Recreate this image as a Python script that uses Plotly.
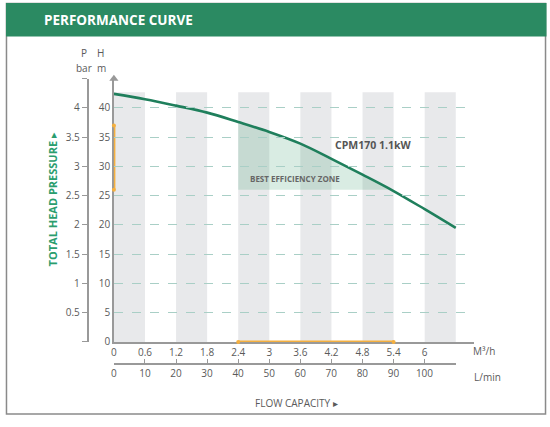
import plotly.graph_objects as go

W, H = 550, 427

# pump curve (flow in m3/h, head in m)
flow = [0, 0.6, 1.2, 1.8, 2.4, 3.0, 3.6, 4.2, 4.8, 5.4, 6.0, 6.6]
head = [42.4, 41.5, 40.4, 39.2, 37.6, 35.9, 33.9, 31.3, 28.6, 25.8, 22.7, 19.5]

flow_ticks = [0, 0.6, 1.2, 1.8, 2.4, 3.0, 3.6, 4.2, 4.8, 5.4, 6.0]
flow_labels = ["0", "0.6", "1.2", "1.8", "2.4", "3", "3.6", "4.2", "4.8", "5.4", "6"]
lmin_ticks = [0, 10, 20, 30, 40, 50, 60, 70, 80, 90, 100, 110]
lmin_labels = ["0", "10", "20", "30", "40", "50", "60", "70", "80", "90", "100", ""]
head_ticks = [0, 5, 10, 15, 20, 25, 30, 35, 40]
bar_ticks = [0, 0.5, 1, 1.5, 2, 2.5, 3, 3.5, 4, 4.5]
bar_labels = ["", "0.5", "1", "1.5", "2", "2.5", "3", "3.5", "4", ""]

stripe_starts = [0, 1.2, 2.4, 3.6, 4.8, 6.0]
stripe_width = 0.6
stripe_top = 42.7

zone_flow = [2.4, 5.4]
zone_head = [26, 37]

GREEN = "#2b8a62"
CURVE = "#1f7f5c"
ORANGE = "#f5b03f"
AXIS = "#999999"
TXT = "#5a5a5a"
FONT = "Open Sans"


def px(x):
    return x / W


def py(y):
    return 1 - y / H


fig = go.Figure()

# efficiency zone fill
zf = [f for f in flow if zone_flow[0] <= f <= zone_flow[1]]
zh = [h for f, h in zip(flow, head) if zone_flow[0] <= f <= zone_flow[1]]
fig.add_trace(go.Scatter(x=zone_flow, y=[zone_head[0], zone_head[0]], mode="lines",
                         line=dict(width=0), hoverinfo="skip", showlegend=False))
fig.add_trace(go.Scatter(x=zf, y=zh, mode="lines", line=dict(width=0, shape="spline"),
                         fill="tonexty", fillcolor="rgba(45,150,100,0.18)",
                         hoverinfo="skip", showlegend=False))

# pump curve
fig.add_trace(go.Scatter(x=flow, y=head, mode="lines", line=dict(color=CURVE, width=2.6, shape="spline"),
                         showlegend=False))

# orange range markers on axes
fig.add_trace(go.Scatter(x=zone_flow, y=[0, 0], mode="lines+markers", cliponaxis=False,
                         line=dict(color=ORANGE, width=3), marker=dict(size=4, color=ORANGE),
                         showlegend=False))
fig.add_trace(go.Scatter(x=[0, 0], y=zone_head, mode="lines+markers", cliponaxis=False,
                         line=dict(color=ORANGE, width=3), marker=dict(size=4, color=ORANGE),
                         showlegend=False))

# axis arrows
fig.add_trace(go.Scatter(x=[6.98], y=[0], mode="markers", cliponaxis=False,
                         marker=dict(symbol="triangle-right", size=8, color=AXIS), showlegend=False))
fig.add_trace(go.Scatter(x=[0], y=[45], mode="markers", cliponaxis=False,
                         marker=dict(symbol="triangle-up", size=8, color=AXIS), showlegend=False))

# dummy traces so the secondary axes get drawn
fig.add_trace(go.Scatter(x=[0, 110], y=[0, 0], xaxis="x2", yaxis="y", mode="markers",
                         marker=dict(opacity=0), hoverinfo="skip", showlegend=False))
fig.add_trace(go.Scatter(x=[0, 0], y=[0, 4.5], xaxis="x", yaxis="y2", mode="markers",
                         marker=dict(opacity=0), hoverinfo="skip", showlegend=False))

shapes = []
for s in stripe_starts:
    shapes.append(dict(type="rect", xref="x", yref="y", x0=s, x1=s + stripe_width, y0=0, y1=stripe_top,
                       fillcolor="#e8e9eb", line=dict(width=0), layer="below"))
# frame and title bar
shapes.append(dict(type="rect", xref="paper", yref="paper", x0=px(3.5), x1=px(545.5), y0=py(421), y1=py(3.5),
                   line=dict(color="#8a8a8a", width=1.5), fillcolor="rgba(0,0,0,0)", layer="below"))
shapes.append(dict(type="rect", xref="paper", yref="paper", x0=px(3), x1=px(546.5), y0=py(37), y1=py(3),
                   line=dict(width=0), fillcolor=GREEN, layer="above"))

annotations = [
    dict(text="<b>PERFORMANCE CURVE</b>", x=px(39), y=py(20), xanchor="left",
         font=dict(size=13.5, color="white", family=FONT)),
    dict(text="P", x=px(81), y=py(54)),
    dict(text="H", x=px(98), y=py(54)),
    dict(text="bar", x=px(81), y=py(69)),
    dict(text="m", x=px(99), y=py(69)),
    dict(text="<b>TOTAL HEAD PRESSURE</b> ▸", x=px(50), y=py(203), textangle=-90,
         font=dict(size=11, color="#2a9d6e", family=FONT)),
    dict(text="M³/h", x=px(484), y=py(357)),
    dict(text="L/min", x=px(487), y=py(383)),
    dict(text="FLOW CAPACITY ▸", x=px(295), y=py(410)),
    dict(text="<b>CPM170 1.1kW</b>", x=5.0, y=33.6, xref="x", yref="y",
         font=dict(size=10.5, color="#555555", family=FONT)),
    dict(text="<b>BEST EFFICIENCY ZONE</b>", x=3.5, y=27.9, xref="x", yref="y",
         font=dict(size=8, color="#666666", family=FONT)),
]
for a in annotations:
    a.setdefault("xref", "paper")
    a.setdefault("yref", "paper")
    a.setdefault("xanchor", "center")
    a.setdefault("font", dict(size=10, color=TXT, family=FONT))
    a["yanchor"] = "middle"
    a["showarrow"] = False

fig.update_layout(
    width=W, height=H,
    margin=dict(l=0, r=0, t=0, b=0, pad=0),
    paper_bgcolor="white", plot_bgcolor="rgba(0,0,0,0)",
    font=dict(family=FONT, size=10, color=TXT),
    shapes=shapes, annotations=annotations,
    xaxis=dict(domain=[px(111.5), px(474)], range=[0, 6.96], tickvals=flow_ticks, ticktext=flow_labels,
               showline=True, linecolor=AXIS, linewidth=1.5, showgrid=False, zeroline=False,
               ticks="", tickfont=dict(size=10, color=TXT), anchor="y", layer="below traces"),
    xaxis2=dict(domain=[px(111.5), px(455)], range=[0, 110], tickvals=lmin_ticks, ticktext=lmin_labels,
                anchor="free", position=py(370), showline=True, linecolor=AXIS, linewidth=1.5,
                ticks="inside", ticklen=4, tickcolor=AXIS, showgrid=False, zeroline=False,
                tickfont=dict(size=10, color=TXT)),
    yaxis=dict(domain=[py(347.7), py(80)], range=[0, 45], tickvals=head_ticks,
               showline=True, linecolor=AXIS, linewidth=1.5, ticks="", zeroline=False,
               showgrid=True, gridcolor="#a9cfc6", griddash="dash", gridwidth=1,
               tickfont=dict(size=10, color=TXT), anchor="x", layer="below traces"),
    yaxis2=dict(overlaying="y", anchor="free", position=px(85), side="left", range=[0, 4.5],
                tickvals=bar_ticks, ticktext=bar_labels, showline=True, linecolor=AXIS, linewidth=1.5,
                ticks="outside", ticklen=5, tickcolor=AXIS, showgrid=False, zeroline=False,
                tickfont=dict(size=10, color=TXT)),
)

# drop the browser's default page margin so the figure sits at the window origin
fig.write_html("out.html", config={"displayModeBar": False},
               post_script="document.body.style.margin='0';document.body.style.overflow='hidden';")
